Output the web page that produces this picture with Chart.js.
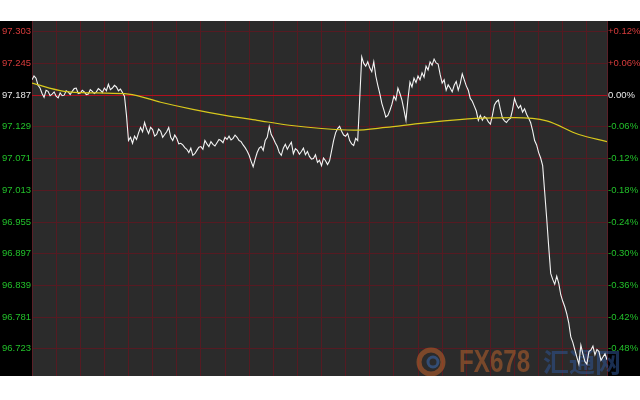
<!DOCTYPE html>
<html>
<head>
<meta charset="utf-8">
<script src="https://cdn.jsdelivr.net/npm/chart.js@4.4.1/dist/chart.umd.min.js"></script>
<style>
  html, body { margin: 0; padding: 0; background: #fff; }
  #wrap { position: absolute; left: 0; top: 21px; width: 640px; height: 355px; background: #000; overflow: hidden; }
  #inner { position: absolute; left: 0; top: -8px; width: 640px; height: 371px; }
</style>
</head>
<body>
<div id="wrap"><div id="inner"><canvas id="myChart"></canvas></div></div>
<script>
// price ticks (left) and base price for the % axis (right)
const basePrice = 97.187;
const yTicks = [97.303, 97.245, 97.187, 97.129, 97.071, 97.013, 96.955, 96.897, 96.839, 96.781, 96.723];

// white line: price, two readings per grid step (143 steps)
const prices = [
  97.215, 97.222, 97.218, 97.205, 97.200, 97.190, 97.183, 97.196, 97.194, 97.186,
  97.189, 97.193, 97.185, 97.182, 97.191, 97.186, 97.187, 97.195, 97.193, 97.188,
  97.194, 97.199, 97.200, 97.190, 97.191, 97.196, 97.193, 97.188, 97.189, 97.197,
  97.194, 97.190, 97.193, 97.199, 97.196, 97.192, 97.200, 97.195, 97.207, 97.197,
  97.200, 97.205, 97.202, 97.195, 97.198, 97.192, 97.185, 97.150, 97.104, 97.110,
  97.099, 97.112, 97.106, 97.118, 97.128, 97.120, 97.137, 97.125, 97.117, 97.128,
  97.124, 97.112, 97.115, 97.125, 97.121, 97.110, 97.115, 97.120, 97.128, 97.110,
  97.104, 97.114, 97.108, 97.098, 97.099, 97.096, 97.091, 97.088, 97.082, 97.090,
  97.077, 97.080, 97.086, 97.092, 97.093, 97.088, 97.104, 97.098, 97.093, 97.102,
  97.097, 97.094, 97.100, 97.106, 97.104, 97.100, 97.110, 97.106, 97.112, 97.105,
  97.108, 97.114, 97.110, 97.104, 97.102, 97.096, 97.091, 97.085, 97.077, 97.066,
  97.056, 97.070, 97.082, 97.090, 97.093, 97.086, 97.104, 97.110, 97.130, 97.115,
  97.108, 97.100, 97.093, 97.082, 97.077, 97.090, 97.097, 97.088, 97.095, 97.101,
  97.080, 97.089, 97.086, 97.079, 97.084, 97.090, 97.078, 97.084, 97.075, 97.070,
  97.071, 97.078, 97.064, 97.068, 97.058, 97.072, 97.067, 97.060, 97.067, 97.085,
  97.104, 97.118, 97.126, 97.130, 97.121, 97.114, 97.112, 97.117, 97.104, 97.098,
  97.095, 97.108, 97.104, 97.180, 97.257, 97.245, 97.240, 97.248, 97.237, 97.230,
  97.248, 97.222, 97.205, 97.190, 97.172, 97.160, 97.147, 97.150, 97.159, 97.170,
  97.185, 97.178, 97.200, 97.190, 97.178, 97.160, 97.141, 97.180, 97.211, 97.202,
  97.218, 97.210, 97.222, 97.215, 97.228, 97.220, 97.240, 97.233, 97.248, 97.242,
  97.253, 97.246, 97.244, 97.225, 97.209, 97.215, 97.196, 97.206, 97.200, 97.193,
  97.205, 97.212, 97.196, 97.208, 97.226, 97.215, 97.204, 97.196, 97.181, 97.176,
  97.167, 97.158, 97.141, 97.150, 97.141, 97.148, 97.145, 97.138, 97.134, 97.150,
  97.169, 97.175, 97.178, 97.160, 97.145, 97.140, 97.137, 97.142, 97.145, 97.160,
  97.181, 97.170, 97.163, 97.168, 97.156, 97.162, 97.152, 97.145, 97.137, 97.122,
  97.104, 97.096, 97.082, 97.072, 97.058, 97.010, 96.962, 96.910, 96.861, 96.850,
  96.841, 96.856, 96.843, 96.822, 96.810, 96.800, 96.787, 96.770, 96.745, 96.735,
  96.721, 96.708, 96.695, 96.730, 96.714, 96.700, 96.695, 96.718, 96.721, 96.728,
  96.712, 96.722, 96.718, 96.702, 96.708, 96.714, 96.703
];

// yellow line: moving average, sampled at these grid steps
const maIdx = [0, 8, 16, 24, 32, 40, 48, 56, 64, 72, 80, 88, 96, 104, 112, 120, 128, 136, 143];
const maPrices = [97.209, 97.194, 97.191, 97.189, 97.174, 97.161, 97.150, 97.141, 97.132, 97.126,
                  97.123, 97.128, 97.135, 97.141, 97.145, 97.146, 97.140, 97.115, 97.102];

const priceData = prices.map((p, i) => ({ x: i / 2, y: p }));
const maData = maIdx.map((t, i) => ({ x: t, y: maPrices[i] }));

const leftFont = { family: '"Liberation Sans", Arial, sans-serif', size: 9.5 };
const rightFont = { family: '"Liberation Sans", Arial, sans-serif', size: 9.5 };

function tickColor(v) {
  if (Math.abs(v - basePrice) < 0.0005) return '#e8e8e8';
  return v > basePrice ? '#d83c3c' : '#22c02a';
}

// canvas sits 13px below the page top
const offY = 13;

const areaBg = {
  id: 'areaBg',
  beforeDraw(chart) {
    const { ctx, chartArea: a } = chart;
    ctx.save();
    ctx.fillStyle = '#2b2b2b';
    ctx.fillRect(a.left, a.top, a.right - a.left, a.bottom - a.top);
    ctx.restore();
  },
  beforeDatasetsDraw(chart) {
    const { ctx } = chart;
    ctx.save();
    // base line at 0.00%
    const yb = chart.scales.y.getPixelForValue(basePrice);
    ctx.strokeStyle = '#b0101e';
    ctx.lineWidth = 1;
    ctx.beginPath();
    ctx.moveTo(chart.chartArea.left, Math.round(yb) + 0.5);
    ctx.lineTo(chart.chartArea.right, Math.round(yb) + 0.5);
    ctx.stroke();
    // watermark
    ctx.globalAlpha = 0.55;
    ctx.beginPath();
    ctx.arc(431, 362 - offY, 12, 0, Math.PI * 2);
    ctx.strokeStyle = '#c0602a';
    ctx.lineWidth = 5;
    ctx.stroke();
    ctx.beginPath();
    ctx.arc(433, 362 - offY, 5, 0, Math.PI * 2);
    ctx.strokeStyle = '#3a6ab0';
    ctx.lineWidth = 3;
    ctx.stroke();
    ctx.textBaseline = 'middle';
    ctx.save();
    ctx.translate(459, 363 - offY);
    ctx.scale(0.78, 1);
    ctx.font = 'bold 31px "Liberation Sans", Arial, sans-serif';
    ctx.fillStyle = '#b8602c';
    ctx.fillText('FX678', 0, 0);
    ctx.restore();
    ctx.font = 'bold 26px "Noto Sans CJK SC", sans-serif';
    ctx.fillStyle = '#2e5494';
    ctx.fillText('汇通网', 543, 362 - offY);
    ctx.restore();
  }
};

const ctx = document.getElementById('myChart');

new Chart(ctx, {
  type: 'line',
  data: {
    datasets: [{
      label: 'MA',
      data: maData,
      borderColor: '#d8c81c',
      borderWidth: 1.2,
      pointRadius: 0,
      cubicInterpolationMode: 'monotone'
    }, {
      label: 'Price',
      data: priceData,
      borderColor: '#f4f4f4',
      borderWidth: 1.1,
      pointRadius: 0,
      tension: 0
    }]
  },
  plugins: [areaBg],
  options: {
    responsive: true,
    maintainAspectRatio: false,
    animation: false,
    layout: { padding: 0 },
    plugins: { legend: { display: false }, tooltip: { enabled: false } },
    scales: {
      x: {
        type: 'linear',
        min: 0,
        max: 143,
        afterFit(s) { s.height = 0; },
        afterBuildTicks(s) {
          const t = [];
          for (let v = 6; v < 143; v += 6) t.push({ value: v });
          s.ticks = t;
        },
        ticks: { display: false },
        border: { display: false },
        grid: { color: '#561a22', drawTicks: false, lineWidth: 1 }
      },
      y: {
        position: 'left',
        min: 96.671,
        max: 97.325,
        afterFit(s) { s.width = 32; },
        afterBuildTicks(s) { s.ticks = yTicks.map(v => ({ value: v })); },
        ticks: {
          padding: 1,
          font: leftFont,
          color: c => tickColor(c.tick.value),
          callback: v => v.toFixed(3)
        },
        border: { display: true, color: '#5a2028' },
        grid: { drawTicks: false, color: '#561a22' }
      },
      y2: {
        position: 'right',
        min: 96.671,
        max: 97.325,
        afterFit(s) { s.width = 33; },
        afterBuildTicks(s) { s.ticks = yTicks.map(v => ({ value: v })); },
        ticks: {
          padding: 1,
          font: rightFont,
          color: c => tickColor(c.tick.value),
          callback: v => {
            const p = (v - basePrice) / basePrice * 100;
            return (p > 0.0001 ? '+' : '') + p.toFixed(2) + '%';
          }
        },
        border: { display: true, color: '#5a2028' },
        grid: { display: false, drawTicks: false }
      }
    }
  }
});
</script>
</body>
</html>
